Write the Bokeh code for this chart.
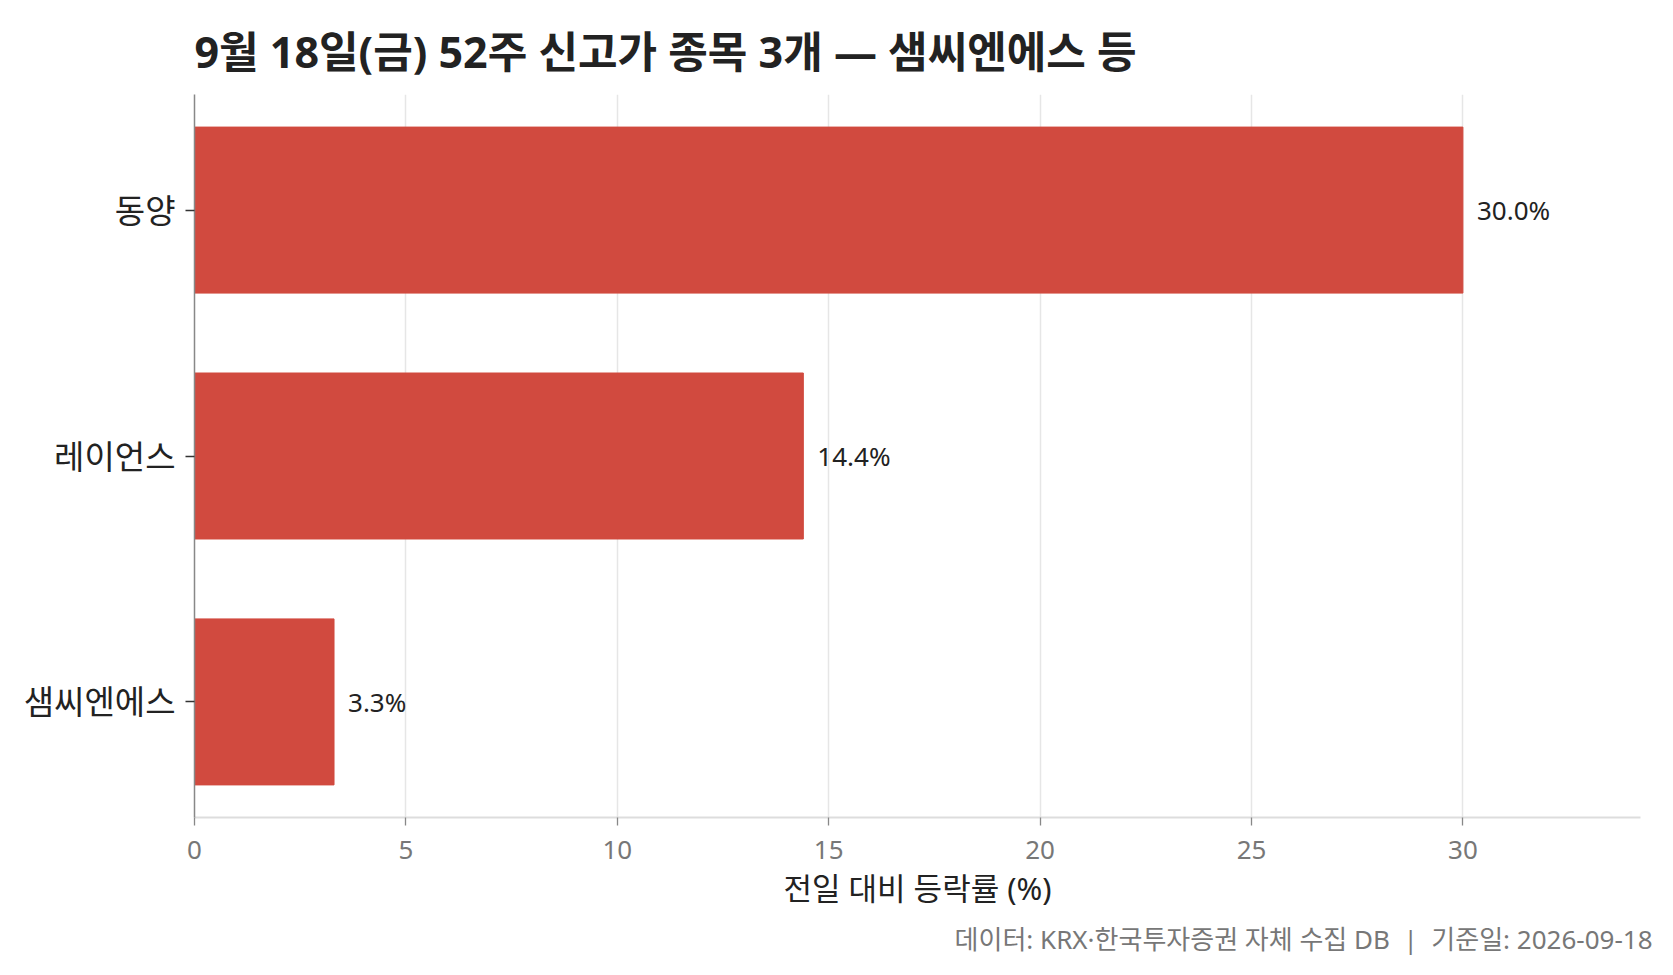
from bokeh.plotting import figure
from bokeh.models import Range1d, FixedTicker, Title, ColumnDataSource
from bokeh.core.properties import value
from bokeh.embed import file_html
from bokeh.resources import INLINE

# data, bottom to top
names = ["샘씨엔에스", "레이언스", "동양"]
changes = [3.3, 14.4, 30.0]
x_ticks = [0, 5, 10, 15, 20, 25, 30]

FONT = "'Noto Sans', 'Noto Sans CJK KR'"
ypos = list(range(len(names)))
src = ColumnDataSource(data=dict(
    y=ypos, v=changes,
    lab=["%.1f%%" % c for c in changes],
))

p = figure(width=1657, height=966, output_backend="svg", toolbar_location=None,
           x_range=Range1d(0, 34.2), y_range=Range1d(-0.47, 2.47),
           min_border_left=194, min_border_right=17, min_border_top=94, min_border_bottom=149)
p.add_layout(Title(text="9월 18일(금) 52주 신고가 종목 3개 — 샘씨엔에스 등", text_font=FONT,
                   text_font_size="43px", text_font_style="bold", text_color="#222222",
                   align="left", standoff=27), "above")
p.add_layout(Title(text="데이터: KRX·한국투자증권 자체 수집 DB \u00a0|\u00a0 기준일: 2026-09-18",
                   text_font=FONT, text_font_size="26px", text_font_style="normal",
                   text_color="#777777", align="right", offset=-12, standoff=15), "below")

p.hbar(y="y", right="v", left=0, height=0.675, source=src, color="#d14a3f")
p.text(x="v", y="y", text="lab", source=src, x_offset=14, text_align="left",
       text_baseline="middle", text_font=value(FONT), text_font_size="26px", text_color="#222222")

p.xaxis.ticker = FixedTicker(ticks=x_ticks)
p.yaxis.ticker = FixedTicker(ticks=ypos)
p.yaxis.major_label_overrides = {i: n for i, n in enumerate(names)}
p.xaxis.axis_label = "전일 대비 등락률 (%)"
p.xaxis.axis_label_text_font = FONT
p.xaxis.axis_label_text_font_size = "31px"
p.xaxis.axis_label_text_font_style = "normal"
p.xaxis.axis_label_text_color = "#222222"
p.xaxis.axis_label_standoff = 5
p.xaxis.major_label_text_font = FONT
p.xaxis.major_label_text_font_size = "26px"
p.xaxis.major_label_text_color = "#777777"
p.xaxis.major_label_standoff = 15
p.xaxis.axis_line_color = "#dddddd"
p.xaxis.axis_line_width = 2
p.xaxis.major_tick_line_color = "#888888"
p.xaxis.major_tick_line_width = 1.3
p.xaxis.major_tick_out = 8
p.xaxis.major_tick_in = 0
p.xaxis.minor_tick_line_color = None

p.yaxis.major_label_text_font = FONT
p.yaxis.major_label_text_font_size = "33px"
p.yaxis.major_label_text_color = "#222222"
p.yaxis.major_label_standoff = 10
p.yaxis.axis_line_color = "#888888"
p.yaxis.axis_line_width = 1.5
p.yaxis.major_tick_line_color = "#333333"
p.yaxis.major_tick_line_width = 1.3
p.yaxis.major_tick_out = 9
p.yaxis.major_tick_in = 0
p.yaxis.minor_tick_line_color = None

p.xgrid.grid_line_color = "#e6e6e6"
p.xgrid.grid_line_width = 1.5
p.ygrid.grid_line_color = None
p.outline_line_color = None

open("out.html", "w").write(file_html(p, INLINE))
